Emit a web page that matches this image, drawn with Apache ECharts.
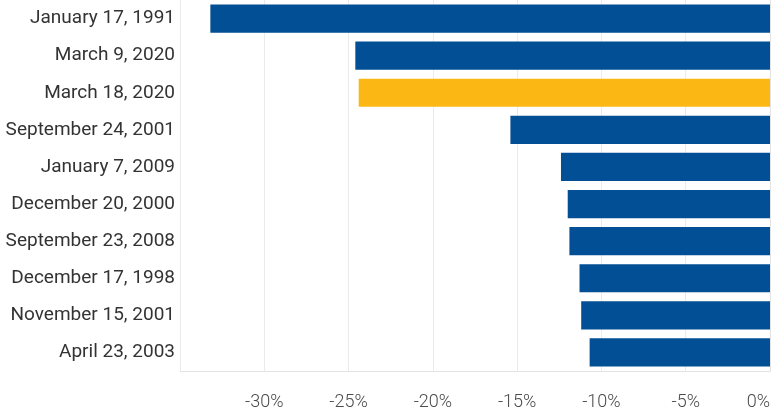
<!DOCTYPE html>
<html>
<head>
<meta charset="utf-8">
<script src="https://cdn.jsdelivr.net/npm/echarts@6/dist/echarts.min.js"></script>
<style>
html,body{margin:0;padding:0;background:#fff;overflow:hidden;}
#chart{width:773px;height:415px;}
</style>
</head>
<body>
<div id="chart"></div>
<script>
const categories = [
  'January 17, 1991',
  'March 9, 2020',
  'March 18, 2020',
  'September 24, 2001',
  'January 7, 2009',
  'December 20, 2000',
  'September 23, 2008',
  'December 17, 1998',
  'November 15, 2001',
  'April 23, 2003'
];
const values = [-33.2, -24.6, -24.4, -15.4, -12.4, -12.0, -11.9, -11.3, -11.2, -10.7];
const highlightCategory = 'March 18, 2020';

const chart = echarts.init(document.getElementById('chart'));
chart.setOption({
  animation: false,
  grid: { left: 180, right: 0, top: 0, bottom: 44, containLabel: false },
  xAxis: {
    type: 'value',
    min: -35,
    max: 0,
    interval: 5,
    axisLine: { show: true, lineStyle: { color: '#e3e3e3', width: 1 } },
    axisTick: { show: false },
    splitLine: { show: true, lineStyle: { color: '#ebebeb', width: 1 } },
    axisLabel: {
      showMinLabel: false,
      alignMaxLabel: 'right',
      formatter: '{value}%',
      color: '#4a4a4a',
      fontFamily: 'Roboto',
      fontWeight: 300,
      fontSize: 18,
      margin: 22
    }
  },
  yAxis: {
    type: 'category',
    inverse: true,
    data: categories,
    axisLine: { show: true, lineStyle: { color: '#e3e3e3', width: 1 } },
    axisTick: { show: false },
    axisLabel: {
      color: '#333',
      fontFamily: 'Roboto',
      fontSize: 19,
      margin: 5
    }
  },
  series: [{
    type: 'bar',
    data: values,
    barWidth: '76%',
    itemStyle: {
      color: function (p) {
        return categories[p.dataIndex] === highlightCategory ? '#fbb714' : '#034f96';
      }
    }
  }]
});
</script>
</body>
</html>
